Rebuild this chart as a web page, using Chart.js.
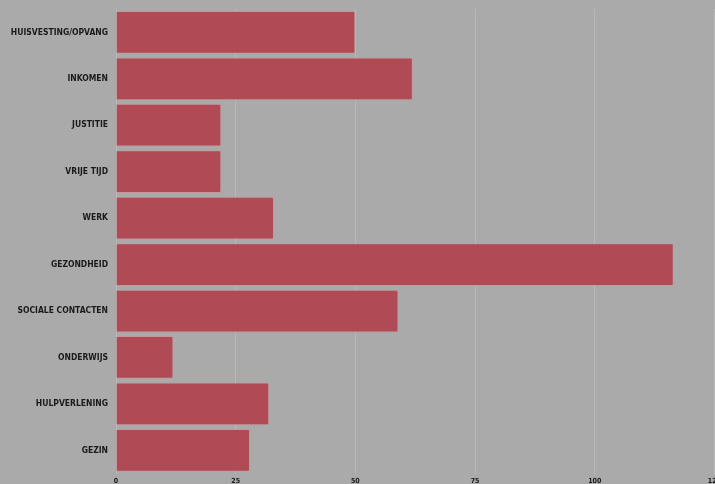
<!DOCTYPE html>
<html>
<head>
<meta charset="utf-8">
<script src="https://cdn.jsdelivr.net/npm/chart.js@4.4.1/dist/chart.umd.min.js"></script>
<style>
  html, body { margin: 0; padding: 0; background: #aaaaaa; overflow: hidden; }
  #wrap { position: absolute; left: 0; top: -4px; width: 724px; height: 492px; }
</style>
</head>
<body>
<div id="wrap"><canvas id="chart"></canvas></div>
<script>
const categories = ["HUISVESTING/OPVANG", "INKOMEN", "JUSTITIE", "VRIJE TIJD", "WERK",
  "GEZONDHEID", "SOCIALE CONTACTEN", "ONDERWIJS", "HULPVERLENING", "GEZIN"];
const values = [50, 62, 22, 22, 33, 116.5, 59, 12, 32, 28];
const tickValues = [0, 25, 50, 75, 100, 125];

var ctx = document.getElementById("chart").getContext("2d");
var myChart = new Chart(ctx, {
  type: "bar",
  data: {
    labels: categories,
    datasets: [
      {
        data: values,
        backgroundColor: "#b04a55",
        borderColor: "rgba(214, 140, 148, 0.6)",
        borderWidth: 1,
        borderRadius: 2,
        barPercentage: 0.92,
        categoryPercentage: 1,
      },
    ],
  },
  options: {
    indexAxis: "y",
    responsive: true,
    maintainAspectRatio: false,
    animation: false,
    layout: { padding: { top: 1, left: 0, right: 0, bottom: 0 } },
    plugins: { legend: { display: false }, tooltip: { enabled: false } },
    scales: {
      x: {
        min: 0,
        max: 125,
        afterBuildTicks: function (axis) {
          axis.ticks = tickValues.map(function (v) { return { value: v }; });
        },
        grid: { color: "rgba(235, 235, 235, 0.22)", drawTicks: false },
        border: { display: false },
        ticks: {
          color: "#1a1a1a",
          padding: 3,
          font: { family: "DejaVu Sans Condensed", weight: "bold", size: 7 },
        },
      },
      y: {
        grid: { display: false, drawTicks: false },
        border: { display: false },
        afterFit: function (axis) { axis.width = 116; },
        ticks: {
          color: "#1a1a1a",
          padding: 8,
          font: { family: "DejaVu Sans Condensed", weight: "bold", size: 8.5 },
        },
      },
    },
  },
});
</script>
</body>
</html>
